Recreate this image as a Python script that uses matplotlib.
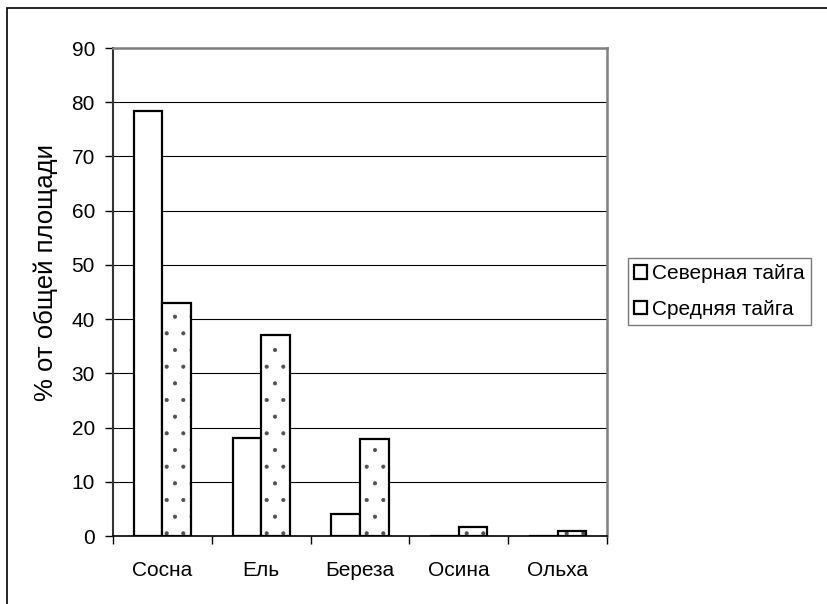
import matplotlib.pyplot as plt
import numpy as np
from matplotlib.patches import Rectangle

plt.rcParams['font.family'] = ['Liberation Sans', 'DejaVu Sans']
plt.rcParams['hatch.linewidth'] = 0.5

# data
categories = ['Сосна', 'Ель', 'Береза', 'Осина', 'Ольха']
north_taiga = [78.3, 18.0, 4.0, 0.0, 0.0]
middle_taiga = [42.9, 37.0, 17.9, 1.7, 1.0]
series_names = ['Северная тайга', 'Средняя тайга']
y_ticks = [0, 10, 20, 30, 40, 50, 60, 70, 80, 90]

fig = plt.figure(figsize=(8.28, 6.04), dpi=100)
ax = fig.add_axes([113 / 828, 1 - 536 / 604, 494 / 828, 488 / 604])

x = np.arange(len(categories))
w = 0.29
ax.bar(x - w / 2, north_taiga, w, facecolor='white', edgecolor='black',
       linewidth=1.6, label=series_names[0], zorder=3)
# dotted fill first (grey dots), then black outline on top
ax.bar(x + w / 2, middle_taiga, w, facecolor='white', edgecolor='#505050',
       linewidth=0, hatch='.', zorder=3)
ax.bar(x + w / 2, middle_taiga, w, facecolor='none', edgecolor='black',
       linewidth=1.6, label=series_names[1], zorder=4)

ax.set_xlim(-0.5, len(categories) - 0.5)
ax.set_ylim(0, 90)
ax.set_yticks(y_ticks)
ax.set_xticks(x)
ax.set_xticklabels(categories)
ax.set_xticks(np.arange(-0.5, len(categories)), minor=True)
ax.tick_params(axis='x', which='major', length=0, pad=18, labelsize=15)
ax.tick_params(axis='x', which='minor', length=6, width=1, direction='out')
ax.tick_params(axis='y', length=6, width=1, direction='out', pad=7, labelsize=15)

ax.yaxis.grid(True, color='black', linewidth=0.8, zorder=0)
ax.set_axisbelow(True)

for s in ['top', 'right']:
    ax.spines[s].set_color('#808080')
    ax.spines[s].set_linewidth(1.8)
ax.spines['left'].set_color('#333333')
ax.spines['left'].set_linewidth(1.5)
ax.spines['bottom'].set_color('black')
ax.spines['bottom'].set_linewidth(1.2)

ax.set_ylabel('% от общей площади', fontsize=18.5)
ax.yaxis.set_label_coords(-0.112, 0.539)

leg = fig.legend(loc='upper left', bbox_to_anchor=(628 / 828, 1 - 258 / 604),
                 fontsize=15, frameon=True, fancybox=False,
                 edgecolor='#555555', handlelength=0.6, handleheight=0.6,
                 handletextpad=0.25, borderpad=0.3, labelspacing=0.8,
                 borderaxespad=0)
leg.get_frame().set_linewidth(1.0)
for h in leg.legend_handles:
    h.set_hatch(None)
    h.set_facecolor('white')
    h.set_linewidth(1.6)

# outer chart frame (only top and left edges visible in the crop)
fig.patches.append(Rectangle((7 / 828, -0.1), 1.2, 1 - 8 / 604 + 0.1,
                             transform=fig.transFigure, fill=False,
                             edgecolor='black', linewidth=1.2))

fig.savefig('out.png', dpi=100)
